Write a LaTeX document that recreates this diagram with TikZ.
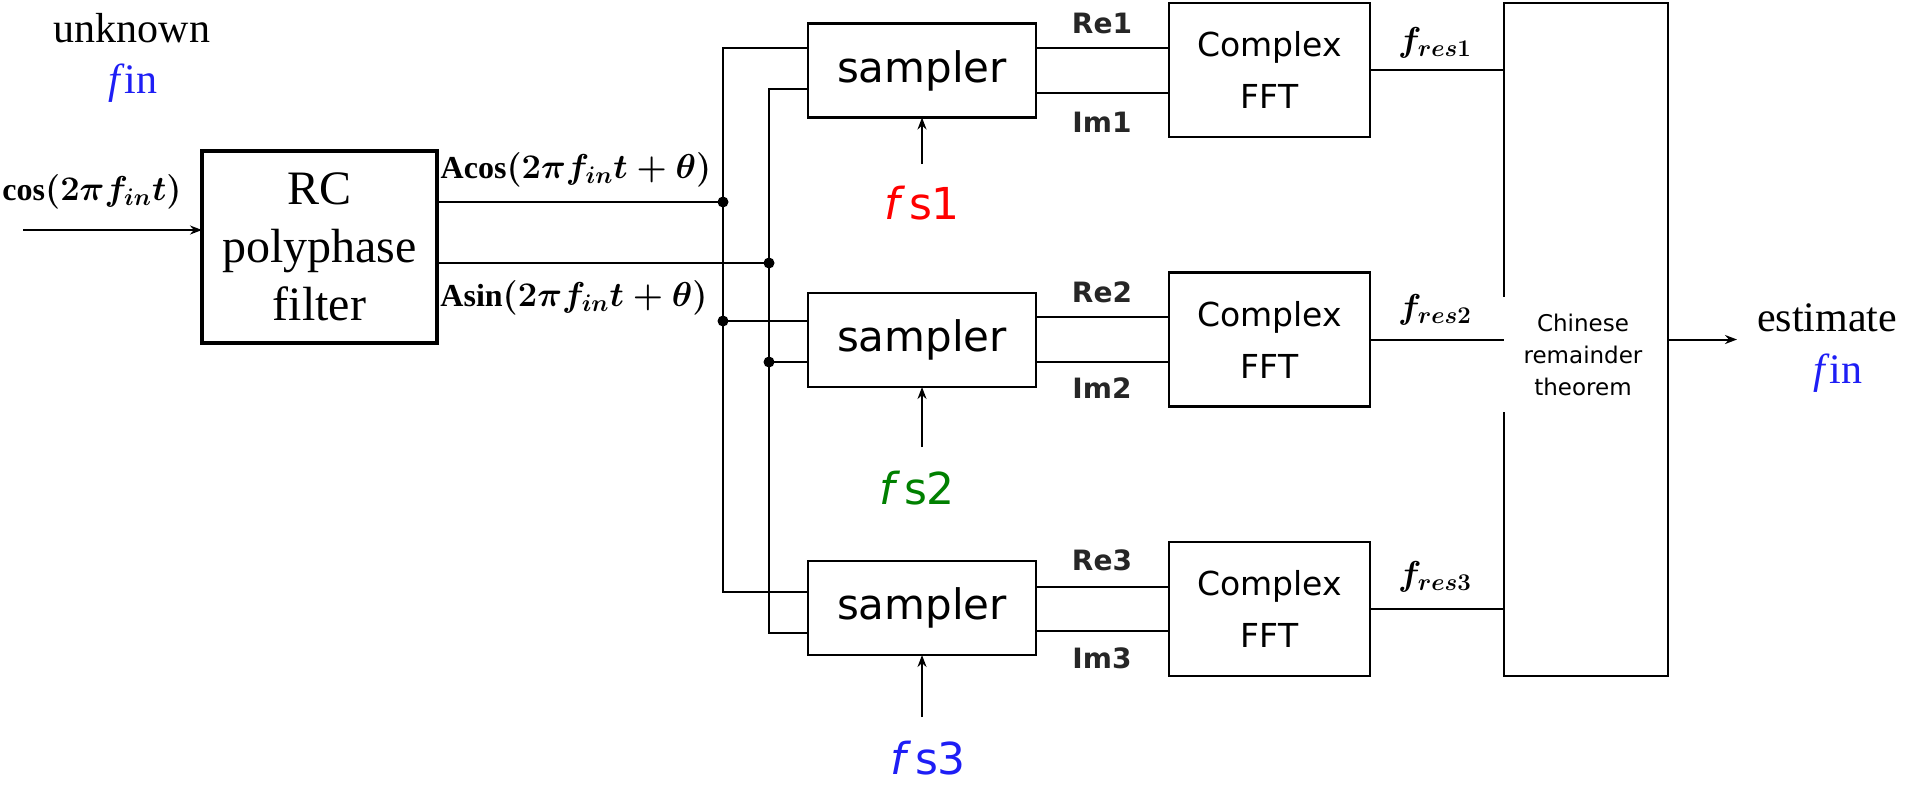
\documentclass[tikz,border=0pt]{standalone}
\usepackage{fontspec}
\setmainfont{Liberation Serif}
\newfontfamily\vsans{DejaVu Sans}
\usetikzlibrary{arrows.meta,calc}
\DeclareMathSizes{16}{16}{12}{9}
\definecolor{fblue}{RGB}{30,30,245}
\definecolor{fred}{RGB}{255,0,0}
\definecolor{fgreen}{RGB}{0,128,0}
\tikzset{
 box/.style={draw, line width=1.3pt, inner sep=0pt, outer sep=0pt, rectangle},
 wire/.style={line width=1pt},
 arr/.style={line width=1pt, -{Stealth[length=6pt,width=4.5pt]}},
 jdot/.style={circle, fill, inner sep=0pt, minimum size=5.5pt},
 serif/.style={font=\fontsize{21}{24}\selectfont, inner sep=0pt},
 mlab/.style={font=\fontsize{16}{19}\selectfont\boldmath, inner sep=0pt},
 sam/.style={box, minimum width=114pt, minimum height=47pt, font=\vsans\fontsize{21}{25}\selectfont},
 fft/.style={box, minimum width=100.5pt, minimum height=67pt, align=center, font=\vsans\fontsize{16.5}{26}\selectfont},
 reim/.style={font=\vsans\bfseries\fontsize{14}{16}\selectfont, text=black!85, inner sep=0pt},
 fslab/.style={font=\vsans\fontsize{22}{24}\selectfont, inner sep=0pt},
}
\begin{document}
\begin{tikzpicture}[x=0.5pt,y=-0.5pt]
\useasboundingbox (0,0) rectangle (1905,784);

% left texts
\node[serif] (unk) at (132,28) {unknown};
\node[serif, text=fblue] (fin1) at (133,83) {\textit{f}in};
\node[mlab] (coslab) at (92,192) {$\cos(2\pi f_{in}t)$};

% RC filter
\node[box, line width=2pt, minimum width=117.5pt, minimum height=96pt, align=center,
      font=\fontsize{24}{29}\selectfont] (rc) at (319.5,247) {RC\\polyphase\\filter};
\coordinate (inst) at (23,230);
\draw[arr] (inst) -- (rc.west |- inst);

\node[mlab] (acos) at (576,170) {$\mathrm{Acos}(2\pi f_{in}t+\theta)$};
\node[mlab] (asin) at (574,298) {$\mathrm{Asin}(2\pi f_{in}t+\theta)$};

% samplers
\node[sam] (s1) at (922,70.5) {sampler};
\node[sam] (s2) at (922,340) {sampler};
\node[sam] (s3) at (922,608) {sampler};

% FFTs
\node[fft] (f1) at (1269.5,70) {Complex\\FFT};
\node[fft] (f2) at (1269.5,339.5) {Complex\\FFT};
\node[fft] (f3) at (1269.5,609) {Complex\\FFT};

% CRT
\node[box, minimum width=82pt, minimum height=336.5pt] (crt) at (1586,339.5) {};
\node[fill=white, minimum width=81pt, minimum height=57.5pt, inner sep=0pt, align=center,
      font=\vsans\fontsize{11.5}{16}\selectfont] (crtt) at (1583,354.5) {Chinese\\remainder\\theorem};

% junction coordinates
\coordinate (ja1) at (723,202);
\coordinate (jb1) at (769,263);
\coordinate (ja2) at (723,321);
\coordinate (jb2) at (769,362);
\coordinate (ta) at (723,48);
\coordinate (tb) at (769,89);
\coordinate (ba) at (723,592);
\coordinate (bb) at (769,633);

\draw[wire] (rc.east |- ja1) -- (ja1);
\draw[wire] (rc.east |- jb1) -- (jb1);
\draw[wire] (s1.west |- ta) -- (ta) -- (ba) -- (s3.west |- ba);
\draw[wire] (s1.west |- tb) -- (tb) -- (bb) -- (s3.west |- bb);
\draw[wire] (ja2) -- (s2.west |- ja2);
\draw[wire] (jb2) -- (s2.west |- jb2);
\foreach \j in {ja1,jb1,ja2,jb2} \node[jdot] at (\j) {};

% Re / Im levels
\coordinate (re1) at (0,48);  \coordinate (im1) at (0,93);
\coordinate (re2) at (0,317); \coordinate (im2) at (0,362);
\coordinate (re3) at (0,587); \coordinate (im3) at (0,631);
\foreach \i in {1,2,3}{
  \draw[wire] (s\i.east |- re\i) -- (f\i.west |- re\i);
  \draw[wire] (s\i.east |- im\i) -- (f\i.west |- im\i);
}
\node[reim] (re1l) at (1102,23) {Re1};
\node[reim] (im1l) at (1102,122) {Im1};
\node[reim] (re2l) at (1102,292) {Re2};
\node[reim] (im2l) at (1102,388) {Im2};
\node[reim] (re3l) at (1102,560) {Re3};
\node[reim] (im3l) at (1102,658) {Im3};

% fres
\foreach \i in {1,2,3}{
  \draw[wire] (f\i.east) -- (crt.west |- f\i.east);
}
\node[mlab] (fr1) at (1435,43) {$f_{res1}$};
\node[mlab] (fr2) at (1435,310) {$f_{res2}$};
\node[mlab] (fr3) at (1435,577) {$f_{res3}$};

% output
\coordinate (outend) at (1737,339.5);
\draw[arr] (crt.east) -- (outend);
\node[serif] (est) at (1827,318) {estimate};
\node[serif, text=fblue] (fin2) at (1838,373) {\textit{f}in};

% sampling clocks
\coordinate (fs1t) at (922,164);
\coordinate (fs2t) at (922,447);
\coordinate (fs3t) at (922,717);
\draw[arr] (fs1t) -- (s1.south);
\draw[arr] (fs2t) -- (s2.south);
\draw[arr] (fs3t) -- (s3.south);
\node[fslab, text=fred] (fs1) at (922,203) {\textit{f}\kern2pt s1};
\node[fslab, text=fgreen] (fs2) at (917,488) {\textit{f}\kern2pt s2};
\node[fslab, text=fblue] (fs3) at (928,758) {\textit{f}\kern2pt s3};
\end{tikzpicture}
\end{document}
